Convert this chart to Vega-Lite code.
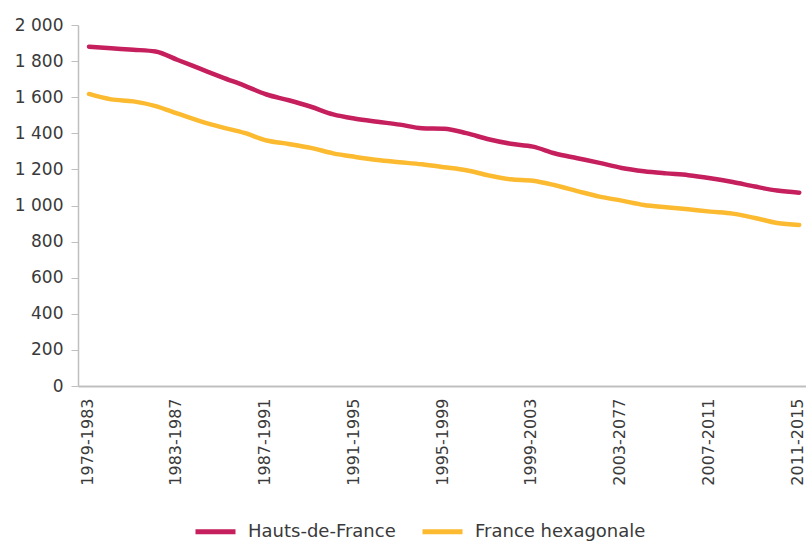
{
  "$schema": "https://vega.github.io/schema/vega-lite/v6.json",
  "autosize": "none",
  "width": 728,
  "height": 361,
  "padding": {"left": 78, "top": 25, "right": 0, "bottom": 156},
  "background": "#ffffff",
  "config": {
    "view": {"stroke": null},
    "font": "DejaVu Sans",
    "axis": {"labelFont": "DejaVu Sans", "labelColor": "#3a3a3a", "domainColor": "#bfbfbf", "tickColor": "#bfbfbf", "grid": false, "title": null}
  },
  "data": {
    "values": [
      {"period": "1979-1983", "serie": "Hauts-de-France", "value": 1880},
      {"period": "1980-1984", "serie": "Hauts-de-France", "value": 1871},
      {"period": "1981-1985", "serie": "Hauts-de-France", "value": 1863},
      {"period": "1982-1986", "serie": "Hauts-de-France", "value": 1853},
      {"period": "1983-1987", "serie": "Hauts-de-France", "value": 1806},
      {"period": "1984-1988", "serie": "Hauts-de-France", "value": 1758},
      {"period": "1985-1989", "serie": "Hauts-de-France", "value": 1710},
      {"period": "1986-1990", "serie": "Hauts-de-France", "value": 1664},
      {"period": "1987-1991", "serie": "Hauts-de-France", "value": 1615},
      {"period": "1988-1992", "serie": "Hauts-de-France", "value": 1583},
      {"period": "1989-1993", "serie": "Hauts-de-France", "value": 1547},
      {"period": "1990-1994", "serie": "Hauts-de-France", "value": 1505},
      {"period": "1991-1995", "serie": "Hauts-de-France", "value": 1481},
      {"period": "1992-1996", "serie": "Hauts-de-France", "value": 1464},
      {"period": "1993-1997", "serie": "Hauts-de-France", "value": 1448},
      {"period": "1994-1998", "serie": "Hauts-de-France", "value": 1428},
      {"period": "1995-1999", "serie": "Hauts-de-France", "value": 1425},
      {"period": "1996-2000", "serie": "Hauts-de-France", "value": 1401},
      {"period": "1997-2001", "serie": "Hauts-de-France", "value": 1367},
      {"period": "1998-2002", "serie": "Hauts-de-France", "value": 1342},
      {"period": "1999-2003", "serie": "Hauts-de-France", "value": 1326},
      {"period": "2000-2004", "serie": "Hauts-de-France", "value": 1288},
      {"period": "2001-2005", "serie": "Hauts-de-France", "value": 1262},
      {"period": "2002-2006", "serie": "Hauts-de-France", "value": 1236},
      {"period": "2003-2077", "serie": "Hauts-de-France", "value": 1208},
      {"period": "2004-2008", "serie": "Hauts-de-France", "value": 1190},
      {"period": "2005-2009", "serie": "Hauts-de-France", "value": 1178},
      {"period": "2006-2010", "serie": "Hauts-de-France", "value": 1168},
      {"period": "2007-2011", "serie": "Hauts-de-France", "value": 1151},
      {"period": "2008-2012", "serie": "Hauts-de-France", "value": 1130},
      {"period": "2009-2013", "serie": "Hauts-de-France", "value": 1105},
      {"period": "2010-2014", "serie": "Hauts-de-France", "value": 1083},
      {"period": "2011-2015", "serie": "Hauts-de-France", "value": 1071},
      {"period": "1979-1983", "serie": "France hexagonale", "value": 1618},
      {"period": "1980-1984", "serie": "France hexagonale", "value": 1588},
      {"period": "1981-1985", "serie": "France hexagonale", "value": 1577},
      {"period": "1982-1986", "serie": "France hexagonale", "value": 1551},
      {"period": "1983-1987", "serie": "France hexagonale", "value": 1509},
      {"period": "1984-1988", "serie": "France hexagonale", "value": 1468},
      {"period": "1985-1989", "serie": "France hexagonale", "value": 1433},
      {"period": "1986-1990", "serie": "France hexagonale", "value": 1402},
      {"period": "1987-1991", "serie": "France hexagonale", "value": 1360},
      {"period": "1988-1992", "serie": "France hexagonale", "value": 1341},
      {"period": "1989-1993", "serie": "France hexagonale", "value": 1319},
      {"period": "1990-1994", "serie": "France hexagonale", "value": 1289},
      {"period": "1991-1995", "serie": "France hexagonale", "value": 1269},
      {"period": "1992-1996", "serie": "France hexagonale", "value": 1252},
      {"period": "1993-1997", "serie": "France hexagonale", "value": 1240},
      {"period": "1994-1998", "serie": "France hexagonale", "value": 1228},
      {"period": "1995-1999", "serie": "France hexagonale", "value": 1212},
      {"period": "1996-2000", "serie": "France hexagonale", "value": 1195},
      {"period": "1997-2001", "serie": "France hexagonale", "value": 1167},
      {"period": "1998-2002", "serie": "France hexagonale", "value": 1145},
      {"period": "1999-2003", "serie": "France hexagonale", "value": 1137},
      {"period": "2000-2004", "serie": "France hexagonale", "value": 1112},
      {"period": "2001-2005", "serie": "France hexagonale", "value": 1080},
      {"period": "2002-2006", "serie": "France hexagonale", "value": 1049},
      {"period": "2003-2077", "serie": "France hexagonale", "value": 1027},
      {"period": "2004-2008", "serie": "France hexagonale", "value": 1003},
      {"period": "2005-2009", "serie": "France hexagonale", "value": 990},
      {"period": "2006-2010", "serie": "France hexagonale", "value": 979},
      {"period": "2007-2011", "serie": "France hexagonale", "value": 966},
      {"period": "2008-2012", "serie": "France hexagonale", "value": 955},
      {"period": "2009-2013", "serie": "France hexagonale", "value": 931},
      {"period": "2010-2014", "serie": "France hexagonale", "value": 903},
      {"period": "2011-2015", "serie": "France hexagonale", "value": 892}
    ]
  },
  "mark": {"type": "line", "strokeWidth": 4.5, "interpolate": "monotone", "strokeCap": "round", "strokeJoin": "round"},
  "encoding": {
    "x": {
      "field": "period",
      "type": "ordinal",
      "sort": null,
      "scale": {"type": "point", "padding": 0.4, "align": 0.62},
      "axis": {
        "values": ["1979-1983", "1983-1987", "1987-1991", "1991-1995", "1995-1999", "1999-2003", "2003-2077", "2007-2011", "2011-2015"],
        "labelAngle": -90,
        "ticks": false,
        "labelPadding": 12,
        "labelFontSize": 16,
        "labelOffset": -2,
        "domainWidth": 2
      }
    },
    "y": {
      "field": "value",
      "type": "quantitative",
      "scale": {"domain": [0, 2000], "nice": false},
      "axis": {
        "values": [0, 200, 400, 600, 800, 1000, 1200, 1400, 1600, 1800, 2000],
        "labelExpr": "replace(format(datum.value, ','), ',', ' ')",
        "tickSize": 7,
        "labelPadding": 8,
        "labelFontSize": 17,
        "domainWidth": 1.5
      }
    },
    "color": {
      "field": "serie",
      "type": "nominal",
      "sort": null,
      "scale": {"domain": ["Hauts-de-France", "France hexagonale"], "range": ["#C51F5D", "#FBBA30"]},
      "legend": {
        "title": null,
        "orient": "none",
        "legendX": 115,
        "legendY": 484,
        "direction": "horizontal",
        "symbolType": "stroke",
        "symbolSize": 1600,
        "symbolStrokeWidth": 5,
        "labelFontSize": 18,
        "labelColor": "#3a3a3a",
        "labelFont": "DejaVu Sans",
        "labelLimit": 300,
        "columnPadding": 16,
        "labelOffset": 10
      }
    }
  }
}
